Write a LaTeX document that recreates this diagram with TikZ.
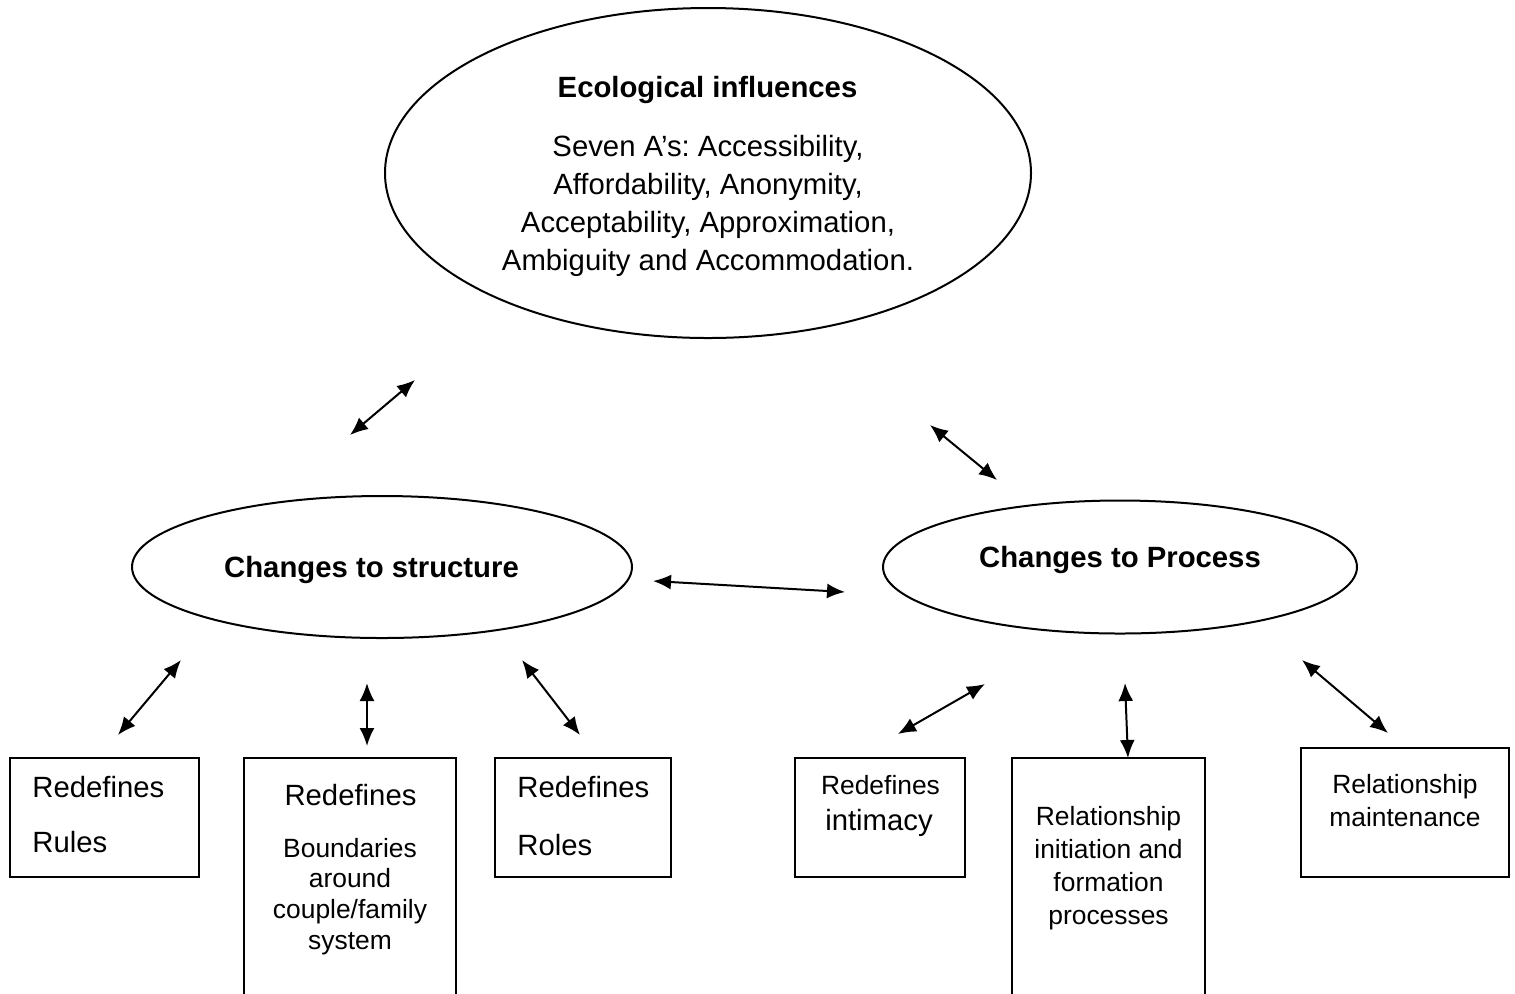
\documentclass[tikz,border=0pt]{standalone}
\usepackage{fontspec}
\setmainfont{Liberation Sans}
\usetikzlibrary{shapes.geometric,arrows.meta}
\frenchspacing
\newcommand{\bigtxt}{\fontsize{14.65pt}{19pt}\selectfont}
\newcommand{\smltxt}{\fontsize{13.2pt}{16.5pt}\selectfont}
\begin{document}
\begin{tikzpicture}[x=0.5pt,y=-0.5pt,
  oval/.style={draw,ellipse,line width=1pt,inner sep=0pt},
  boxnode/.style={draw,rectangle,line width=1pt,inner sep=0pt},
  txt/.style={inner sep=0pt,align=center,font=\bigtxt},
  stxt/.style={inner sep=0pt,align=center,font=\smltxt},
  link/.style={line width=1pt,{Latex[length=9pt,width=7.5pt]}-{Latex[length=9pt,width=7.5pt]}}]
\clip (0,0) rectangle (1515,993);
\fill[white] (0,0) rectangle (1515,993);
% ellipses
\node[oval,minimum width=323pt,minimum height=165pt] (eco) at (708,173) {};
\node[oval,minimum width=250pt,minimum height=71pt] (struct) at (382,567) {};
\node[oval,minimum width=237pt,minimum height=66.5pt] (proc) at (1120,567) {};
\node[txt,anchor=north,font=\bigtxt\bfseries] (ecot) at (707.5,75.5) {Ecological influences};
\node[txt,anchor=north] (ecob) at (708,134.5) {Seven A’s: Accessibility,\\Affordability, Anonymity,\\Acceptability, Approximation,\\Ambiguity and Accommodation.};
\node[txt,anchor=north,font=\bigtxt\bfseries] (structt) at (371.5,555.5) {Changes to structure};
\node[txt,anchor=north,font=\bigtxt\bfseries] (proct) at (1120,545.5) {Changes to Process};
% boxes
\node[boxnode,minimum width=94.5pt,minimum height=59.5pt] (rules) at (104.5,817.5) {};
\node[boxnode,minimum width=106pt,minimum height=151pt] (bound) at (350,909) {};
\node[boxnode,minimum width=88pt,minimum height=59.5pt] (roles) at (583,817.5) {};
\node[boxnode,minimum width=85pt,minimum height=59.5pt] (intim) at (880,817.5) {};
\node[boxnode,minimum width=96.5pt,minimum height=151pt] (init) at (1108.5,909) {};
\node[boxnode,minimum width=104pt,minimum height=64.5pt] (maint) at (1405,812.5) {};
% box texts
\node[txt,anchor=north west] (rulesa) at (32,775.5) {Redefines};
\node[txt,anchor=north west] (rulesb) at (32,830.5) {Rules};
\node[txt,anchor=north] (bounda) at (350.5,783.5) {Redefines};
\node[stxt,anchor=north,font=\fontsize{13.2pt}{15.35pt}\selectfont] (boundb) at (350,837.5) {Boundaries\\around\\couple/family\\system};
\node[txt,anchor=north west] (rolesa) at (517,775.5) {Redefines};
\node[txt,anchor=north west] (rolesb) at (517,833.5) {Roles};
\node[stxt,anchor=north] (intima) at (880.5,774.5) {Redefines};
\node[txt,anchor=north] (intimb) at (879,808.5) {intimacy};
\node[stxt,anchor=north] (initt) at (1108.5,805.5) {Relationship\\initiation and\\formation\\processes};
\node[stxt,anchor=north] (maintt) at (1405,773.5) {Relationship\\maintenance};
% arrow end points
\coordinate (a1s) at (350,435); \coordinate (a1e) at (415,380);
\coordinate (a2s) at (930,425); \coordinate (a2e) at (997,480);
\coordinate (a3s) at (653,581); \coordinate (a3e) at (845,592);
\coordinate (a4s) at (118,735); \coordinate (a4e) at (181,660);
\coordinate (a5s) at (367,683); \coordinate (a5e) at (367,746);
\coordinate (a6s) at (522,660); \coordinate (a6e) at (580,735);
\coordinate (a7s) at (898,734); \coordinate (a7e) at (985,684);
\coordinate (a8s) at (1125,683); \coordinate (a8e) at (1128,758);
\coordinate (a9s) at (1302,660); \coordinate (a9e) at (1388,733);
\draw[link] (a1s) -- (a1e);
\draw[link] (a2s) -- (a2e);
\draw[link] (a3s) -- (a3e);
\draw[link] (a4s) -- (a4e);
\draw[link] (a5s) -- (a5e);
\draw[link] (a6s) -- (a6e);
\draw[link] (a7s) -- (a7e);
\draw[link] (a8s) -- (a8e);
\draw[link] (a9s) -- (a9e);
\end{tikzpicture}
\end{document}
